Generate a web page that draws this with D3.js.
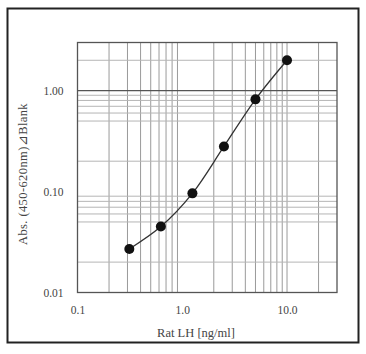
<!DOCTYPE html>
<html>
<head>
<meta charset="utf-8">
<script src="https://cdn.jsdelivr.net/npm/d3@7"></script>
<style>
  body { margin: 0; background: #fff; }
  text { font-family: "Liberation Serif", "DejaVu Serif", serif; fill: #444; }
</style>
</head>
<body>
<div id="chart"></div>
<script>
// standard curve data
var conc = [0.3125, 0.625, 1.25, 2.5, 5, 10];
var absorb = [0.027, 0.045, 0.096, 0.28, 0.82, 2.0];

var xTicks = [0.1, 1, 10];
var xTickLabels = ["0.1", "1.0", "10.0"];
var yTicks = [0.01, 0.1, 1];
var yTickLabels = ["0.01", "0.10", "1.00"];

// gridlines seen in the picture
var xGrid = [0.2, 0.3, 0.4, 0.5, 0.6, 0.7, 0.8, 0.9, 2, 3, 4, 5, 6, 7, 8, 9, 10, 20];
var yGrid = [0.02, 0.05, 0.06, 0.07, 0.08, 0.09, 0.2, 0.5, 0.6, 0.7, 0.8, 0.9, 2];

var W = 366, H = 354;
var margin = {top: 42.5, right: 29, bottom: 61.5, left: 77.5},
    width = W - margin.left - margin.right,
    height = H - margin.top - margin.bottom;

var svg = d3.select("#chart").append("svg")
    .attr("width", W)
    .attr("height", H);

// outer frame
svg.append("rect")
    .attr("x", 7.5).attr("y", 8.5)
    .attr("width", 351).attr("height", 334)
    .attr("fill", "none")
    .attr("stroke", "#222")
    .attr("stroke-width", 2);

var g = svg.append("g")
    .attr("transform", "translate(" + margin.left + "," + margin.top + ")");

var x = d3.scaleLog().domain([0.1, 30]).range([0, width]);
var y = d3.scaleLog().domain([0.01, 3]).range([height, 0]);

// vertical grid
g.selectAll(".vgrid").data(xGrid).enter().append("line")
    .attr("class", "vgrid")
    .attr("x1", function(d) { return x(d); })
    .attr("x2", function(d) { return x(d); })
    .attr("y1", 0).attr("y2", height)
    .attr("stroke", "#9a9a9a")
    .attr("stroke-width", 1);

// horizontal grid
g.selectAll(".hgrid").data(yGrid).enter().append("line")
    .attr("class", "hgrid")
    .attr("x1", 0).attr("x2", width)
    .attr("y1", function(d) { return y(d); })
    .attr("y2", function(d) { return y(d); })
    .attr("stroke", "#b5b5b5")
    .attr("stroke-width", 1);

// the 1.00 line is darker
g.append("line")
    .attr("x1", 0).attr("x2", width)
    .attr("y1", y(1)).attr("y2", y(1))
    .attr("stroke", "#555")
    .attr("stroke-width", 1.2);

// plot border
g.append("rect")
    .attr("width", width).attr("height", height)
    .attr("fill", "none")
    .attr("stroke", "#555")
    .attr("stroke-width", 1.3);

// axes (labels only)
var xAxis = g.append("g")
    .attr("transform", "translate(0," + height + ")")
    .call(d3.axisBottom(x).tickValues(xTicks).tickSize(0).tickPadding(13)
        .tickFormat(function(d, i) { return xTickLabels[i]; }));
var yAxis = g.append("g")
    .call(d3.axisLeft(y).tickValues(yTicks).tickSize(0).tickPadding(14)
        .tickFormat(function(d, i) { return yTickLabels[i]; }));
[xAxis, yAxis].forEach(function(a) {
    a.select(".domain").remove();
    a.selectAll("text")
        .style("font-family", '"Liberation Serif", "DejaVu Serif", serif')
        .style("font-size", "11.5px")
        .attr("fill", "#444");
});

// curve
var pts = conc.map(function(c, i) { return {c: c, a: absorb[i]}; });
var line = d3.line()
    .x(function(d) { return x(d.c); })
    .y(function(d) { return y(d.a); })
    .curve(d3.curveCatmullRom);

g.append("path")
    .datum(pts)
    .attr("d", line)
    .attr("fill", "none")
    .attr("stroke", "#333")
    .attr("stroke-width", 1.3);

g.selectAll(".dot").data(pts).enter().append("circle")
    .attr("class", "dot")
    .attr("cx", function(d) { return x(d.c); })
    .attr("cy", function(d) { return y(d.a); })
    .attr("r", 5)
    .attr("fill", "#111");

// axis titles
svg.append("text")
    .attr("x", 196).attr("y", 337)
    .attr("text-anchor", "middle")
    .style("font-size", "12.5px")
    .text("Rat LH [ng/ml]");

svg.append("text")
    .attr("transform", "translate(27,174) rotate(-90)")
    .attr("text-anchor", "middle")
    .style("font-size", "12.5px")
    .style("letter-spacing", "0.4px")
    .text("Abs. (450-620nm)⊿Blank");
</script>
</body>
</html>
